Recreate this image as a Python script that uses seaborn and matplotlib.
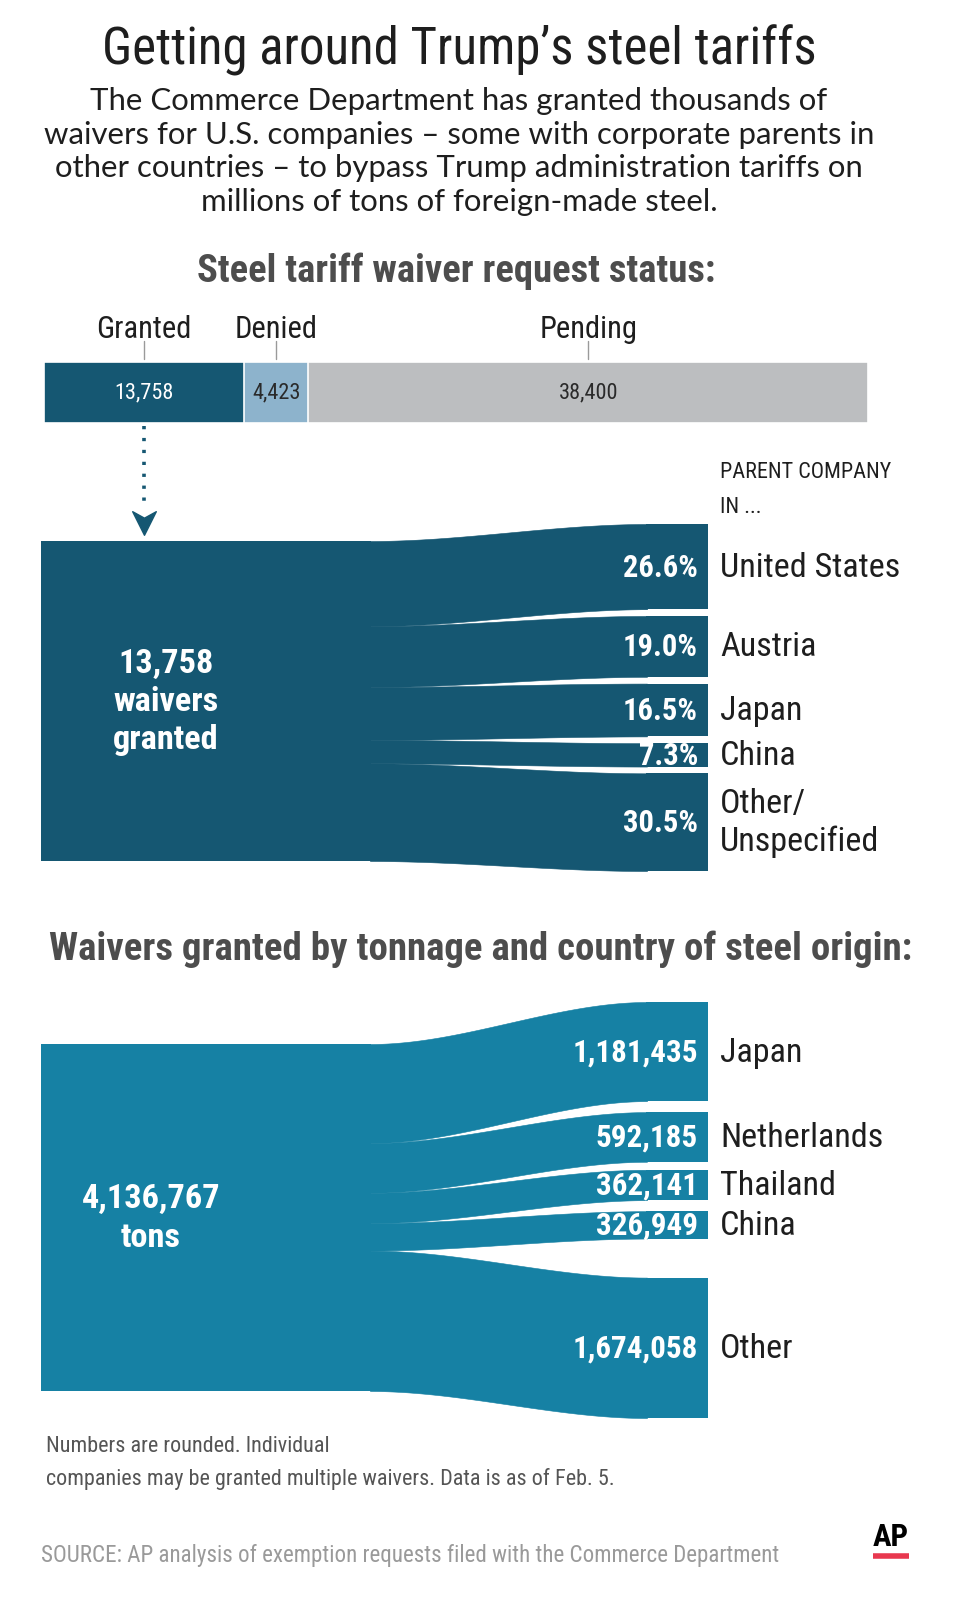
import numpy as np
import pandas as pd
import matplotlib
matplotlib.use("Agg")
import matplotlib.pyplot as plt
import seaborn as sns
from matplotlib.path import Path

# waiver request status (top bar)
status = ["Granted", "Denied", "Pending"]
status_counts = [13758, 4423, 38400]
status_labels = ["13,758", "4,423", "38,400"]

# parent company of the granted waivers, percent
parent_names = ["United States", "Austria", "Japan", "China", "Other/\nUnspecified"]
parent_share = [26.6, 19.0, 16.5, 7.3, 30.5]
parent_labels = ["26.6%", "19.0%", "16.5%", "7.3%", "30.5%"]

# tons granted by country of steel origin
origin_names = ["Japan", "Netherlands", "Thailand", "China", "Other"]
origin_tons = [1181435, 592185, 362141, 326949, 1674058]
origin_labels = ["1,181,435", "592,185", "362,141", "326,949", "1,674,058"]

DARK = "#155772"
TEAL = "#1681a4"
LIGHT = "#8db3cc"
GREY = "#bcbec0"
INK = "#1e1e1e"

sns.set_theme(style="white")
COND = ["Roboto Condensed", "Liberation Sans", "DejaVu Sans"]
REG = ["Lato", "DejaVu Sans"]
plt.rcParams["font.family"] = COND

W, H = 960, 1624
fig = plt.figure(figsize=(W / 100, H / 100), dpi=100)


def box(x0, y0, x1, y1):
    return fig.add_axes([x0 / W, 1 - y1 / H, (x1 - x0) / W, (y1 - y0) / H])


# background axes in pixel units for headings and notes
bg = box(0, 0, W, H)
bg.set_xlim(0, W)
bg.set_ylim(H, 0)
bg.axis("off")

bg.text(459, 64, "Getting around Trump\u2019s steel tariffs", ha="center", va="baseline",
        fontsize=36.6, color=INK)
sub = ["The Commerce Department has granted thousands of",
       "waivers for U.S. companies \u2013 some with corporate parents in",
       "other countries \u2013 to bypass Trump administration tariffs on",
       "millions of tons of foreign-made steel."]
for i, line in enumerate(sub):
    bg.text(459, 110 + i * 33.7, line, ha="center", va="baseline", fontsize=22.4,
            color=INK, family=REG)

bg.text(456, 282, "Steel tariff waiver request status:", ha="center", va="baseline",
        fontsize=27.8, fontweight="bold", color="#4d4d4d")
bg.text(481, 960, "Waivers granted by tonnage and country of steel origin:", ha="center",
        va="baseline", fontsize=28, fontweight="bold", color="#4d4d4d")
bg.text(720, 478, "PARENT COMPANY", fontsize=15.9, color=INK, va="baseline")
bg.text(720, 513, "IN ...", fontsize=15.9, color=INK, va="baseline")

bg.text(46, 1452, "Numbers are rounded. Individual", fontsize=15.9, color="#555555",
        va="baseline")
bg.text(46, 1485, "companies may be granted multiple waivers. Data is as of Feb. 5.",
        fontsize=15.9, color="#555555", va="baseline")
bg.text(41, 1562, "SOURCE: AP analysis of exemption requests filed with the Commerce Department",
        fontsize=16.6, color="#9a9a9a", va="baseline")
bg.text(891, 1546, "AP", ha="center", va="baseline", fontsize=22.3, fontweight="bold",
        color="black")
bg.plot([873, 909], [1557, 1557], color="#e8384f", lw=4, solid_capstyle="butt")

# ---- status bar ----
ax0 = box(43.5, 362.5, 868, 423.5)
cum = np.cumsum(status_counts)
starts = cum - np.array(status_counts)
centers = starts + np.array(status_counts) / 2
df = pd.DataFrame({"stage": ["status"] * 3, "cum": cum, "seg": status})
sns.barplot(data=df, x="cum", y="stage", hue="seg",
            hue_order=["Pending", "Denied", "Granted"],
            palette={"Granted": DARK, "Denied": LIGHT, "Pending": GREY}, saturation=1,
            dodge=False, width=1, legend=False, edgecolor="white", linewidth=1.2, ax=ax0)
ax0.set_xlim(0, cum[-1])
ax0.set_ylim(0.5, -0.5)
ax0.axis("off")
tr = ax0.get_xaxis_transform()
for c, name, lab, col in zip(centers, status, status_labels, ["white", "#2a2a2a", "#2a2a2a"]):
    ax0.text(c, 0, lab, ha="center", va="center", fontsize=16, color=col)
    ax0.plot([c, c], [1.04, 1.33], transform=tr, color="#9a9a9a", lw=1, clip_on=False)
    ax0.text(c, 1.40, name, transform=tr, ha="center", va="baseline", fontsize=22, color=INK)

# dotted arrow from granted segment down to the flow
ax0.plot([centers[0], centers[0]], [-0.06, -1.40], transform=tr, color=DARK, lw=2.6,
         ls=(0, (0.9, 2.4)), clip_on=False)
head = Path([(-1, 1), (0, 0.45), (1, 1), (0, -1), (-1, 1)],
            [Path.MOVETO, Path.LINETO, Path.LINETO, Path.LINETO, Path.CLOSEPOLY])
ax0.plot([centers[0]], [-1.64], transform=tr, marker=head, ms=17, color=DARK, clip_on=False)

# ---- sankey helper ----
XL, XS, XN, XR = 41, 370, 647, 708


def sankey(ax, values, color, scale, shift_px, gaps_px, labels, names, big, big_x, val_fs):
    vals = np.array(values, float)
    total = vals.sum()
    left_top = np.concatenate([[0], np.cumsum(vals)[:-1]])
    gaps = np.concatenate([[0], np.cumsum(gaps_px)]) / scale
    right_top = shift_px / scale + left_top + gaps
    ax.fill_between([XL, XS + 1], 0, total, color=color, lw=0)
    t = np.linspace(0, 1, 120)
    s = 3 * t ** 2 - 2 * t ** 3
    x = XS + t * (XN - XS)
    for lt, rt, v in zip(left_top, right_top, vals):
        top = lt + (rt - lt) * s
        ax.fill_between(x, top, top + v, color=color, lw=0.4, edgecolor=color)
        ax.fill_between([XN - 1, XR], rt, rt + v, color=color, lw=0)
    for rt, v, lab, nm in zip(right_top, vals, labels, names):
        ax.text(XR - 10, rt + v / 2, lab, ha="right", va="center", fontsize=val_fs,
                fontweight="bold", color="white")
        ax.text(XR + 12, rt + v / 2, nm, ha="left", va="center", fontsize=24.6,
                color=INK, linespacing=1.2)
    ax.text(big_x, total / 2, big, ha="center", va="center", fontsize=24.7,
            fontweight="bold", color="white", linespacing=1.25)


# parent company sankey
y0, y1, top1 = 500, 900, 542
sc1 = 320 / sum(parent_share)
ax1 = box(0, y0, W, y1)
ax1.set_xlim(0, W)
ax1.set_ylim((y1 - top1) / sc1, (y0 - top1) / sc1)
ax1.axis("off")
sankey(ax1, parent_share, DARK, sc1, -17, [6.75] * 4, parent_labels, parent_names,
       "13,758\nwaivers\ngranted", 166, 22)

# tonnage sankey
y0, y1, top2 = 980, 1440, 1045
sc2 = 347 / sum(origin_tons)
ax2 = box(0, y0, W, y1)
ax2.set_xlim(0, W)
ax2.set_ylim((y1 - top2) / sc2, (y0 - top2) / sc2)
ax2.axis("off")
sankey(ax2, origin_tons, TEAL, sc2, -42, [11, 8, 11, 39], origin_labels, origin_names,
       "4,136,767\ntons", 151, 22.3)

fig.savefig("out.png", dpi=100, facecolor="white")
